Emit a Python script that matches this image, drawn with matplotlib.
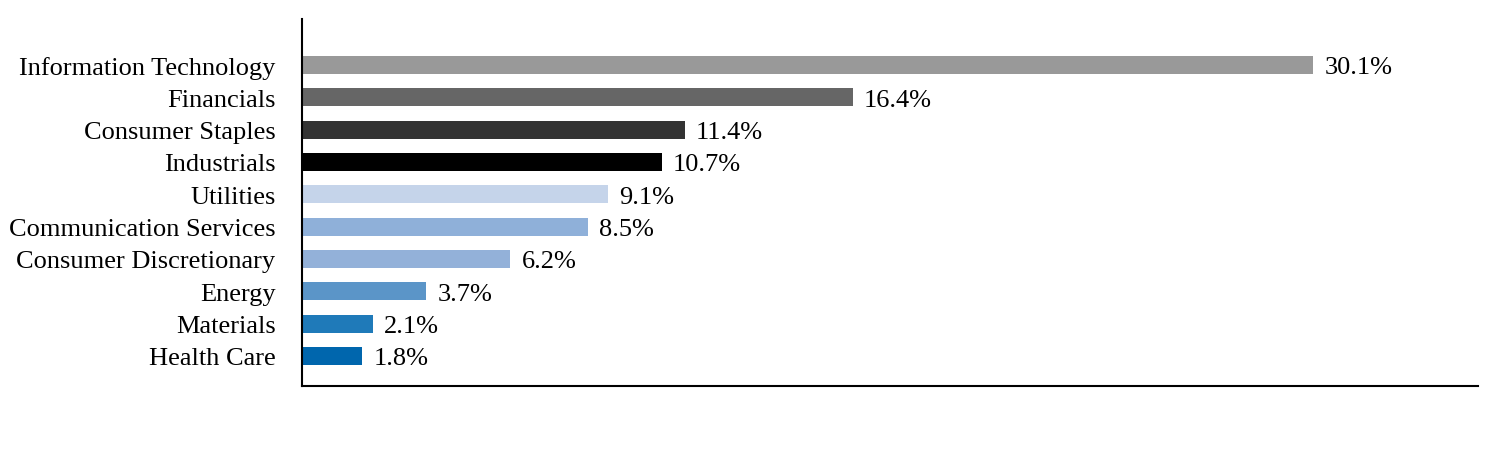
import matplotlib
matplotlib.use("Agg")
import matplotlib.pyplot as plt

sectors = [
    "Information Technology",
    "Financials",
    "Consumer Staples",
    "Industrials",
    "Utilities",
    "Communication Services",
    "Consumer Discretionary",
    "Energy",
    "Materials",
    "Health Care",
]
weights = [30.1, 16.4, 11.4, 10.7, 9.1, 8.5, 6.2, 3.7, 2.1, 1.8]
colors = [
    "#999999", "#666666", "#333333", "#000000", "#c5d4ea",
    "#8fb0d9", "#93b1d9", "#5b95c8", "#1f7ab9", "#0066ad",
]

plt.rcParams["font.family"] = ["Liberation Serif", "DejaVu Serif"]

fig = plt.figure(figsize=(15.12, 4.56), dpi=100)
ax = fig.add_axes([302 / 1512, 1 - 387 / 456, (1478 - 302) / 1512, (387 - 20) / 456])

y = list(range(len(sectors)))
ax.barh(y, weights, height=0.56, color=colors)
for yi, w in zip(y, weights):
    ax.annotate(f"{w:.1f}%", (w, yi), xytext=(8, 0), textcoords="offset points",
                va="center_baseline", ha="left", fontsize=19)

ax.set_yticks(y)
ax.set_yticklabels(sectors, fontsize=19, va="center_baseline")
ax.set_xticks([])
ax.tick_params(axis="y", length=0, pad=19)
ax.set_xlim(0, 35)
ax.set_ylim(9.93, -1.42)
for side in ("top", "right"):
    ax.spines[side].set_visible(False)
for side in ("left", "bottom"):
    ax.spines[side].set_linewidth(1.5)

fig.savefig("out.png", dpi=100)
plt.close(fig)
